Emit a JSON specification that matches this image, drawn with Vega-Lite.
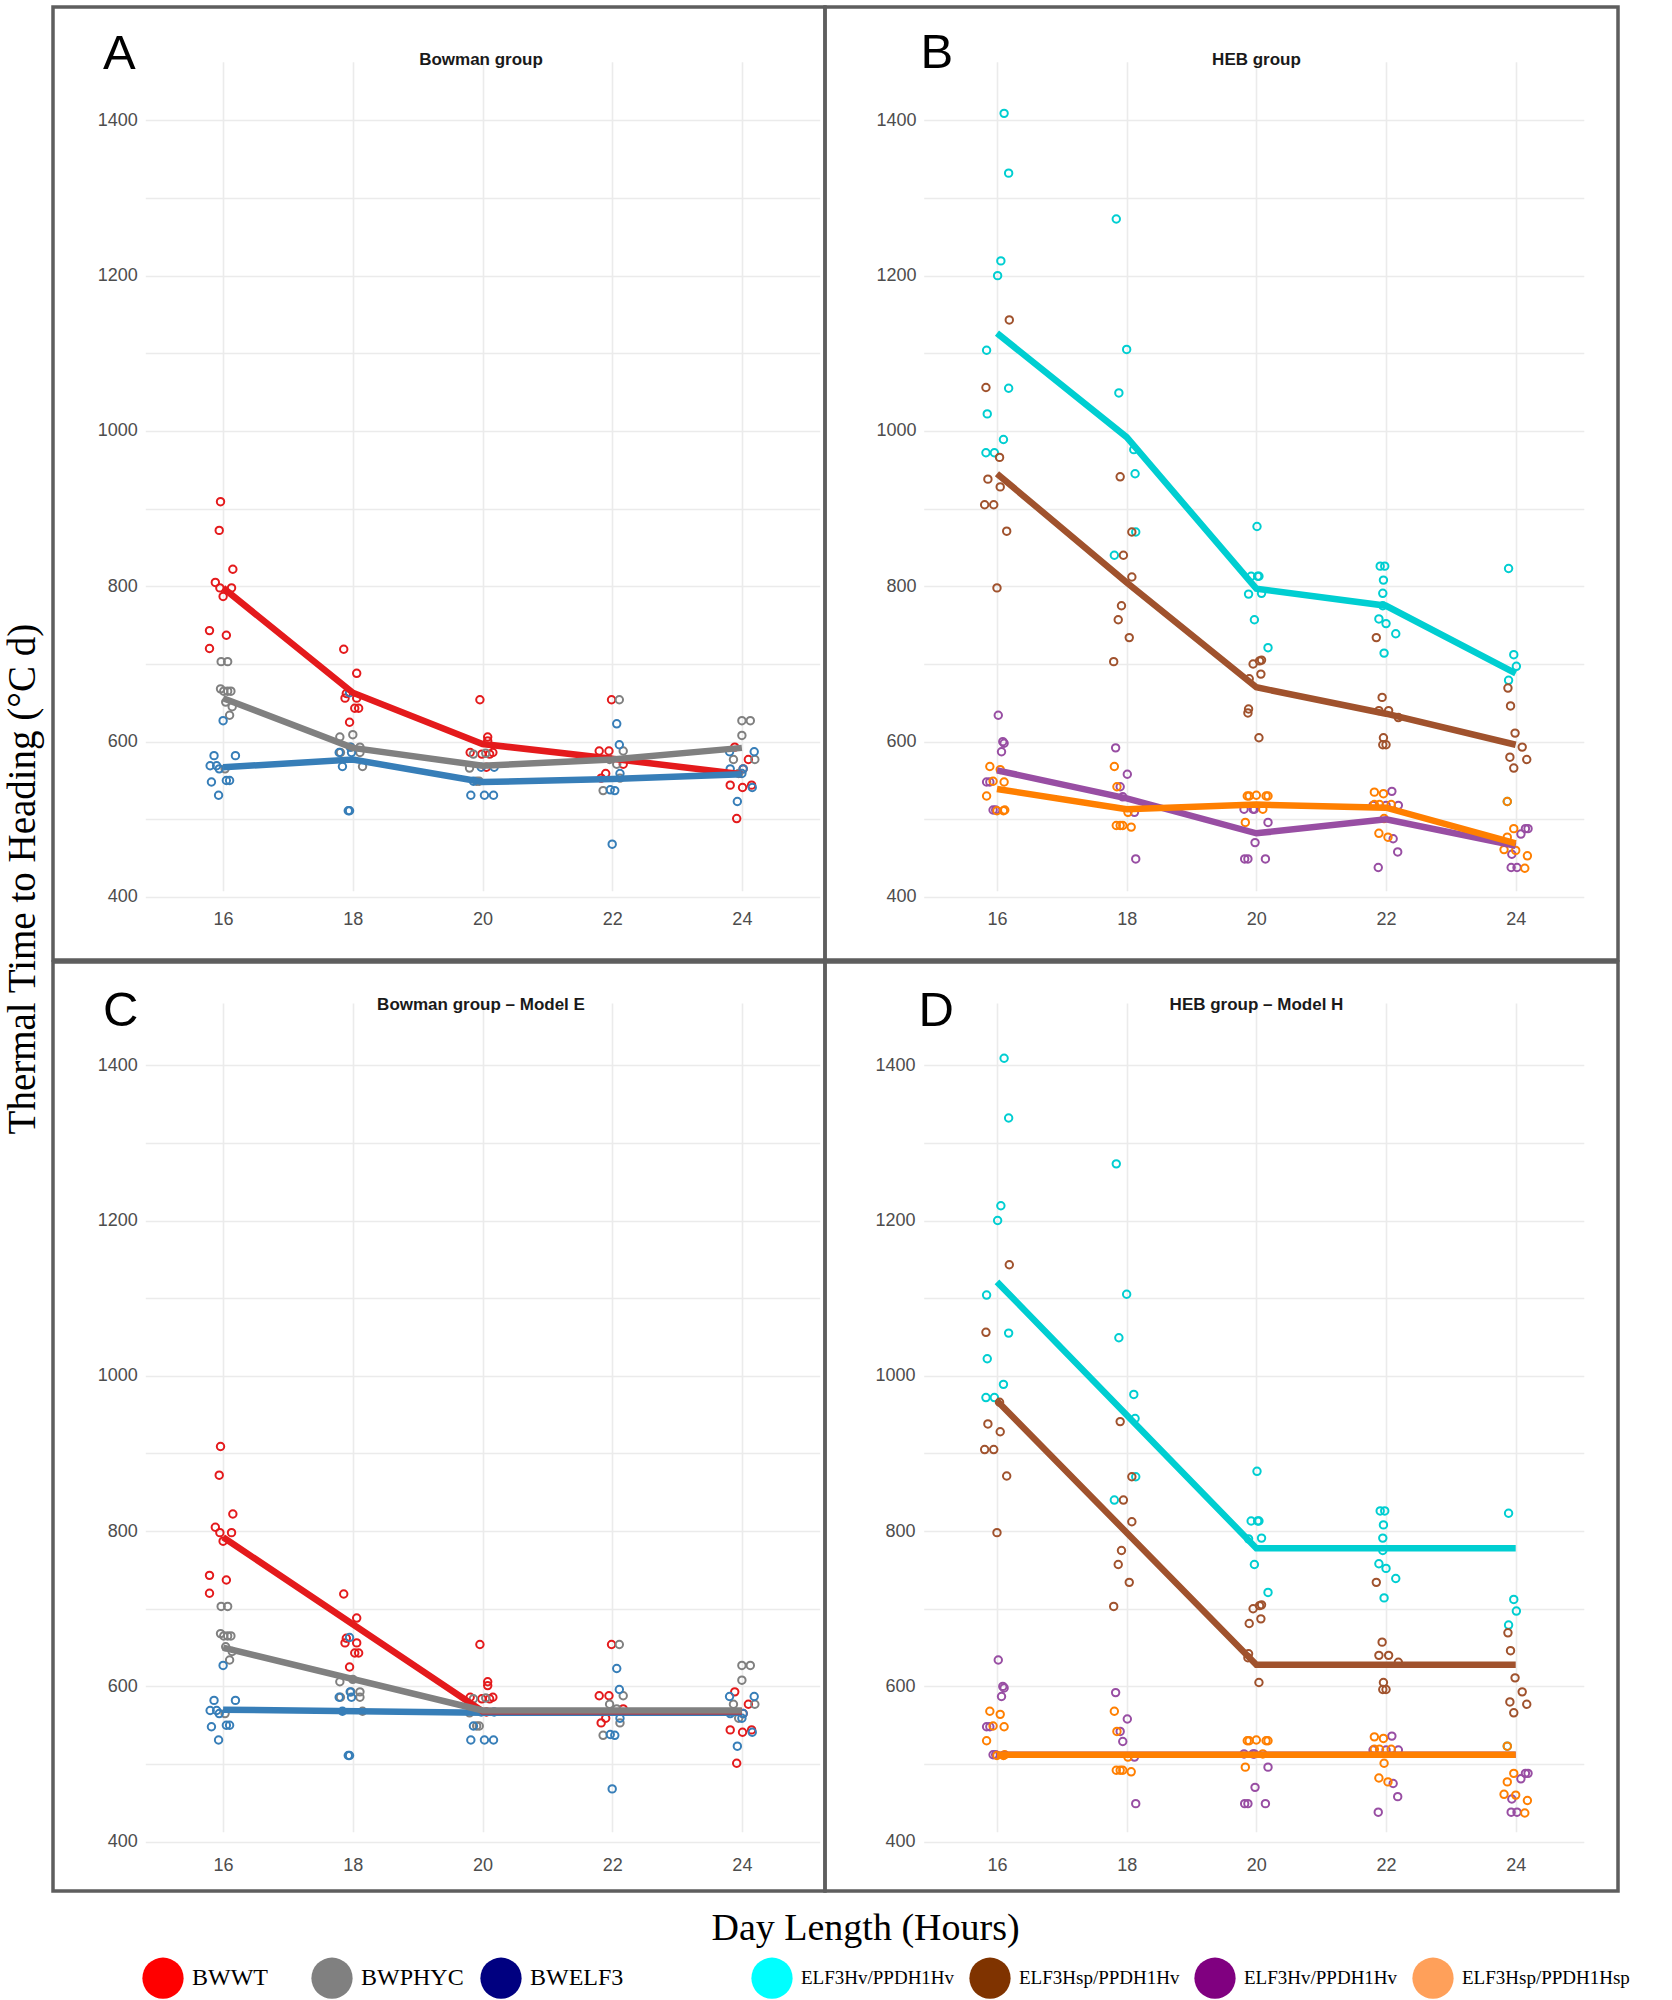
{
  "$schema": "https://vega.github.io/schema/vega-lite/v6.json",
  "background": "white",
  "padding": {"left": 4, "top": 5, "right": 5, "bottom": 0},
  "title": {"text": "Thermal Time to Heading (°C d)", "orient": "left", "anchor": "middle", "frame": "bounds", "font": "Liberation Serif", "fontSize": 39, "fontWeight": "normal", "color": "black", "offset": 8, "dx": 123},
  "config": {
    "view": {"stroke": "#5E5E5E", "strokeWidth": 3.5},
    "axis": {"gridColor": "#EBEBEB", "gridWidth": 1.6, "labelFont": "Liberation Sans", "labelFontSize": 18, "labelColor": "#4D4D4D", "domain": false, "ticks": false}
  },
  "datasets": {
    "bowman_obs": [
      {"genotype": "BW_WT", "day": 15.96, "tt": 909}, {"genotype": "BW_WT", "day": 15.94, "tt": 872}, {"genotype": "BW_WT", "day": 16.15, "tt": 822}, {"genotype": "BW_WT", "day": 15.88, "tt": 805}, {"genotype": "BW_WT", "day": 15.95, "tt": 798}, {"genotype": "BW_WT", "day": 16.13, "tt": 798}, {"genotype": "BW_WT", "day": 16.0, "tt": 787}, {"genotype": "BW_WT", "day": 15.79, "tt": 743}, {"genotype": "BW_WT", "day": 16.05, "tt": 737}, {"genotype": "BW_WT", "day": 15.79, "tt": 720},
      {"genotype": "BW_WT", "day": 17.86, "tt": 719}, {"genotype": "BW_WT", "day": 18.06, "tt": 688}, {"genotype": "BW_WT", "day": 17.90, "tt": 662}, {"genotype": "BW_WT", "day": 17.88, "tt": 656}, {"genotype": "BW_WT", "day": 18.06, "tt": 656}, {"genotype": "BW_WT", "day": 18.03, "tt": 643}, {"genotype": "BW_WT", "day": 18.09, "tt": 643}, {"genotype": "BW_WT", "day": 17.95, "tt": 625},
      {"genotype": "BW_WT", "day": 19.96, "tt": 654}, {"genotype": "BW_WT", "day": 20.08, "tt": 606}, {"genotype": "BW_WT", "day": 20.08, "tt": 601}, {"genotype": "BW_WT", "day": 19.81, "tt": 586}, {"genotype": "BW_WT", "day": 19.99, "tt": 584}, {"genotype": "BW_WT", "day": 20.11, "tt": 584}, {"genotype": "BW_WT", "day": 20.16, "tt": 586}, {"genotype": "BW_WT", "day": 20.06, "tt": 567},
      {"genotype": "BW_WT", "day": 21.99, "tt": 654}, {"genotype": "BW_WT", "day": 21.80, "tt": 588}, {"genotype": "BW_WT", "day": 21.95, "tt": 588}, {"genotype": "BW_WT", "day": 22.17, "tt": 571}, {"genotype": "BW_WT", "day": 21.90, "tt": 559}, {"genotype": "BW_WT", "day": 21.83, "tt": 553},
      {"genotype": "BW_WT", "day": 23.89, "tt": 593}, {"genotype": "BW_WT", "day": 24.10, "tt": 577}, {"genotype": "BW_WT", "day": 24.02, "tt": 565}, {"genotype": "BW_WT", "day": 23.82, "tt": 544}, {"genotype": "BW_WT", "day": 24.01, "tt": 541}, {"genotype": "BW_WT", "day": 24.15, "tt": 544}, {"genotype": "BW_WT", "day": 23.92, "tt": 501},
      {"genotype": "BW_PHYC", "day": 15.97, "tt": 703}, {"genotype": "BW_PHYC", "day": 16.07, "tt": 703}, {"genotype": "BW_PHYC", "day": 15.96, "tt": 668}, {"genotype": "BW_PHYC", "day": 16.01, "tt": 665}, {"genotype": "BW_PHYC", "day": 16.07, "tt": 665}, {"genotype": "BW_PHYC", "day": 16.12, "tt": 665}, {"genotype": "BW_PHYC", "day": 16.04, "tt": 651}, {"genotype": "BW_PHYC", "day": 16.14, "tt": 645}, {"genotype": "BW_PHYC", "day": 16.10, "tt": 634}, {"genotype": "BW_PHYC", "day": 16.03, "tt": 565},
      {"genotype": "BW_PHYC", "day": 17.80, "tt": 606}, {"genotype": "BW_PHYC", "day": 18.0, "tt": 609}, {"genotype": "BW_PHYC", "day": 17.81, "tt": 586}, {"genotype": "BW_PHYC", "day": 17.97, "tt": 593}, {"genotype": "BW_PHYC", "day": 18.11, "tt": 593}, {"genotype": "BW_PHYC", "day": 18.11, "tt": 586}, {"genotype": "BW_PHYC", "day": 18.15, "tt": 568},
      {"genotype": "BW_PHYC", "day": 19.86, "tt": 584}, {"genotype": "BW_PHYC", "day": 20.05, "tt": 585}, {"genotype": "BW_PHYC", "day": 19.80, "tt": 566}, {"genotype": "BW_PHYC", "day": 19.91, "tt": 549}, {"genotype": "BW_PHYC", "day": 19.95, "tt": 549},
      {"genotype": "BW_PHYC", "day": 22.11, "tt": 654}, {"genotype": "BW_PHYC", "day": 22.17, "tt": 588}, {"genotype": "BW_PHYC", "day": 22.07, "tt": 571}, {"genotype": "BW_PHYC", "day": 21.96, "tt": 577}, {"genotype": "BW_PHYC", "day": 22.12, "tt": 553}, {"genotype": "BW_PHYC", "day": 21.86, "tt": 537},
      {"genotype": "BW_PHYC", "day": 24.0, "tt": 627}, {"genotype": "BW_PHYC", "day": 24.13, "tt": 627}, {"genotype": "BW_PHYC", "day": 24.0, "tt": 608}, {"genotype": "BW_PHYC", "day": 23.87, "tt": 577}, {"genotype": "BW_PHYC", "day": 24.20, "tt": 577}, {"genotype": "BW_PHYC", "day": 23.95, "tt": 559},
      {"genotype": "BW_ELF3", "day": 16.0, "tt": 627}, {"genotype": "BW_ELF3", "day": 15.86, "tt": 582}, {"genotype": "BW_ELF3", "day": 16.19, "tt": 582}, {"genotype": "BW_ELF3", "day": 15.80, "tt": 569}, {"genotype": "BW_ELF3", "day": 15.90, "tt": 569}, {"genotype": "BW_ELF3", "day": 15.94, "tt": 565}, {"genotype": "BW_ELF3", "day": 15.82, "tt": 548}, {"genotype": "BW_ELF3", "day": 16.05, "tt": 550}, {"genotype": "BW_ELF3", "day": 16.10, "tt": 550}, {"genotype": "BW_ELF3", "day": 15.93, "tt": 531},
      {"genotype": "BW_ELF3", "day": 17.95, "tt": 663}, {"genotype": "BW_ELF3", "day": 17.79, "tt": 586}, {"genotype": "BW_ELF3", "day": 17.98, "tt": 586}, {"genotype": "BW_ELF3", "day": 17.96, "tt": 593}, {"genotype": "BW_ELF3", "day": 17.84, "tt": 568}, {"genotype": "BW_ELF3", "day": 17.93, "tt": 511}, {"genotype": "BW_ELF3", "day": 17.95, "tt": 511},
      {"genotype": "BW_ELF3", "day": 19.98, "tt": 567}, {"genotype": "BW_ELF3", "day": 20.18, "tt": 567}, {"genotype": "BW_ELF3", "day": 19.86, "tt": 549}, {"genotype": "BW_ELF3", "day": 19.82, "tt": 531}, {"genotype": "BW_ELF3", "day": 20.03, "tt": 531}, {"genotype": "BW_ELF3", "day": 20.17, "tt": 531},
      {"genotype": "BW_ELF3", "day": 22.07, "tt": 623}, {"genotype": "BW_ELF3", "day": 22.11, "tt": 596}, {"genotype": "BW_ELF3", "day": 22.12, "tt": 559}, {"genotype": "BW_ELF3", "day": 21.97, "tt": 538}, {"genotype": "BW_ELF3", "day": 22.04, "tt": 537}, {"genotype": "BW_ELF3", "day": 22.0, "tt": 468},
      {"genotype": "BW_ELF3", "day": 23.81, "tt": 587}, {"genotype": "BW_ELF3", "day": 24.19, "tt": 587}, {"genotype": "BW_ELF3", "day": 23.82, "tt": 565}, {"genotype": "BW_ELF3", "day": 24.02, "tt": 565}, {"genotype": "BW_ELF3", "day": 24.0, "tt": 559}, {"genotype": "BW_ELF3", "day": 24.16, "tt": 541}, {"genotype": "BW_ELF3", "day": 23.93, "tt": 523}
    ],
    "heb_obs": [
      {"genotype": "Hv_Hv", "day": 16.11, "tt": 1409}, {"genotype": "Hv_Hv", "day": 16.18, "tt": 1332}, {"genotype": "Hv_Hv", "day": 16.06, "tt": 1219}, {"genotype": "Hv_Hv", "day": 16.01, "tt": 1200}, {"genotype": "Hv_Hv", "day": 15.84, "tt": 1104}, {"genotype": "Hv_Hv", "day": 16.18, "tt": 1055}, {"genotype": "Hv_Hv", "day": 15.85, "tt": 1022}, {"genotype": "Hv_Hv", "day": 16.10, "tt": 989}, {"genotype": "Hv_Hv", "day": 15.83, "tt": 972}, {"genotype": "Hv_Hv", "day": 15.96, "tt": 972},
      {"genotype": "Hv_Hv", "day": 17.84, "tt": 1273}, {"genotype": "Hv_Hv", "day": 18.0, "tt": 1105}, {"genotype": "Hv_Hv", "day": 17.88, "tt": 1049}, {"genotype": "Hv_Hv", "day": 18.11, "tt": 976}, {"genotype": "Hv_Hv", "day": 18.13, "tt": 945}, {"genotype": "Hv_Hv", "day": 18.14, "tt": 870}, {"genotype": "Hv_Hv", "day": 17.81, "tt": 840},
      {"genotype": "Hv_Hv", "day": 20.01, "tt": 877}, {"genotype": "Hv_Hv", "day": 19.92, "tt": 813}, {"genotype": "Hv_Hv", "day": 20.02, "tt": 813}, {"genotype": "Hv_Hv", "day": 20.04, "tt": 813}, {"genotype": "Hv_Hv", "day": 19.88, "tt": 790}, {"genotype": "Hv_Hv", "day": 20.08, "tt": 791}, {"genotype": "Hv_Hv", "day": 19.97, "tt": 757}, {"genotype": "Hv_Hv", "day": 20.18, "tt": 721},
      {"genotype": "Hv_Hv", "day": 21.91, "tt": 826}, {"genotype": "Hv_Hv", "day": 21.98, "tt": 826}, {"genotype": "Hv_Hv", "day": 21.96, "tt": 808}, {"genotype": "Hv_Hv", "day": 21.95, "tt": 791}, {"genotype": "Hv_Hv", "day": 21.95, "tt": 775}, {"genotype": "Hv_Hv", "day": 21.89, "tt": 758}, {"genotype": "Hv_Hv", "day": 22.0, "tt": 752}, {"genotype": "Hv_Hv", "day": 22.15, "tt": 739}, {"genotype": "Hv_Hv", "day": 21.97, "tt": 714},
      {"genotype": "Hv_Hv", "day": 23.89, "tt": 823}, {"genotype": "Hv_Hv", "day": 23.97, "tt": 712}, {"genotype": "Hv_Hv", "day": 24.01, "tt": 697}, {"genotype": "Hv_Hv", "day": 23.89, "tt": 679}, {"genotype": "Hv_Hv", "day": 23.87, "tt": 523},
      {"genotype": "Hsp_Hv", "day": 16.19, "tt": 1143}, {"genotype": "Hsp_Hv", "day": 15.83, "tt": 1056}, {"genotype": "Hsp_Hv", "day": 16.04, "tt": 966}, {"genotype": "Hsp_Hv", "day": 15.86, "tt": 938}, {"genotype": "Hsp_Hv", "day": 16.05, "tt": 928}, {"genotype": "Hsp_Hv", "day": 15.81, "tt": 905}, {"genotype": "Hsp_Hv", "day": 15.95, "tt": 905}, {"genotype": "Hsp_Hv", "day": 16.15, "tt": 871}, {"genotype": "Hsp_Hv", "day": 16.0, "tt": 798},
      {"genotype": "Hsp_Hv", "day": 17.90, "tt": 941}, {"genotype": "Hsp_Hv", "day": 18.08, "tt": 870}, {"genotype": "Hsp_Hv", "day": 17.95, "tt": 840}, {"genotype": "Hsp_Hv", "day": 18.08, "tt": 812}, {"genotype": "Hsp_Hv", "day": 17.92, "tt": 775}, {"genotype": "Hsp_Hv", "day": 17.87, "tt": 757}, {"genotype": "Hsp_Hv", "day": 18.04, "tt": 734}, {"genotype": "Hsp_Hv", "day": 17.80, "tt": 703},
      {"genotype": "Hsp_Hv", "day": 19.95, "tt": 700}, {"genotype": "Hsp_Hv", "day": 20.05, "tt": 704}, {"genotype": "Hsp_Hv", "day": 20.08, "tt": 705}, {"genotype": "Hsp_Hv", "day": 20.07, "tt": 687}, {"genotype": "Hsp_Hv", "day": 19.89, "tt": 681}, {"genotype": "Hsp_Hv", "day": 19.88, "tt": 642}, {"genotype": "Hsp_Hv", "day": 19.87, "tt": 637}, {"genotype": "Hsp_Hv", "day": 20.04, "tt": 605},
      {"genotype": "Hsp_Hv", "day": 21.85, "tt": 734}, {"genotype": "Hsp_Hv", "day": 21.94, "tt": 657}, {"genotype": "Hsp_Hv", "day": 21.89, "tt": 640}, {"genotype": "Hsp_Hv", "day": 22.04, "tt": 640}, {"genotype": "Hsp_Hv", "day": 22.19, "tt": 631}, {"genotype": "Hsp_Hv", "day": 21.96, "tt": 605}, {"genotype": "Hsp_Hv", "day": 21.95, "tt": 596}, {"genotype": "Hsp_Hv", "day": 22.0, "tt": 596},
      {"genotype": "Hsp_Hv", "day": 23.88, "tt": 669}, {"genotype": "Hsp_Hv", "day": 23.92, "tt": 646}, {"genotype": "Hsp_Hv", "day": 23.99, "tt": 611}, {"genotype": "Hsp_Hv", "day": 24.10, "tt": 593}, {"genotype": "Hsp_Hv", "day": 23.91, "tt": 580}, {"genotype": "Hsp_Hv", "day": 24.17, "tt": 577}, {"genotype": "Hsp_Hv", "day": 23.97, "tt": 566},
      {"genotype": "Hv_Hsp", "day": 16.02, "tt": 634}, {"genotype": "Hv_Hsp", "day": 16.09, "tt": 600}, {"genotype": "Hv_Hsp", "day": 16.11, "tt": 598}, {"genotype": "Hv_Hsp", "day": 16.07, "tt": 587}, {"genotype": "Hv_Hsp", "day": 15.84, "tt": 548}, {"genotype": "Hv_Hsp", "day": 15.89, "tt": 548}, {"genotype": "Hv_Hsp", "day": 15.94, "tt": 512}, {"genotype": "Hv_Hsp", "day": 15.98, "tt": 512},
      {"genotype": "Hv_Hsp", "day": 17.83, "tt": 592}, {"genotype": "Hv_Hsp", "day": 18.01, "tt": 558}, {"genotype": "Hv_Hsp", "day": 17.90, "tt": 542}, {"genotype": "Hv_Hsp", "day": 17.94, "tt": 529}, {"genotype": "Hv_Hsp", "day": 18.12, "tt": 509}, {"genotype": "Hv_Hsp", "day": 18.14, "tt": 449},
      {"genotype": "Hv_Hsp", "day": 19.81, "tt": 513}, {"genotype": "Hv_Hsp", "day": 19.95, "tt": 513}, {"genotype": "Hv_Hsp", "day": 19.97, "tt": 513}, {"genotype": "Hv_Hsp", "day": 20.18, "tt": 496}, {"genotype": "Hv_Hsp", "day": 19.98, "tt": 470}, {"genotype": "Hv_Hsp", "day": 19.82, "tt": 449}, {"genotype": "Hv_Hsp", "day": 19.87, "tt": 449}, {"genotype": "Hv_Hsp", "day": 20.14, "tt": 449},
      {"genotype": "Hv_Hsp", "day": 22.09, "tt": 536}, {"genotype": "Hv_Hsp", "day": 21.80, "tt": 518}, {"genotype": "Hv_Hsp", "day": 22.0, "tt": 518}, {"genotype": "Hv_Hsp", "day": 22.19, "tt": 518}, {"genotype": "Hv_Hsp", "day": 22.11, "tt": 475}, {"genotype": "Hv_Hsp", "day": 22.18, "tt": 458}, {"genotype": "Hv_Hsp", "day": 21.88, "tt": 438},
      {"genotype": "Hv_Hsp", "day": 24.08, "tt": 481}, {"genotype": "Hv_Hsp", "day": 24.15, "tt": 488}, {"genotype": "Hv_Hsp", "day": 24.19, "tt": 488}, {"genotype": "Hv_Hsp", "day": 23.94, "tt": 455}, {"genotype": "Hv_Hsp", "day": 23.93, "tt": 438}, {"genotype": "Hv_Hsp", "day": 24.02, "tt": 438},
      {"genotype": "Hsp_Hsp", "day": 15.89, "tt": 568}, {"genotype": "Hsp_Hsp", "day": 16.05, "tt": 564}, {"genotype": "Hsp_Hsp", "day": 15.94, "tt": 549}, {"genotype": "Hsp_Hsp", "day": 16.11, "tt": 548}, {"genotype": "Hsp_Hsp", "day": 15.84, "tt": 530}, {"genotype": "Hsp_Hsp", "day": 16.0, "tt": 511}, {"genotype": "Hsp_Hsp", "day": 16.12, "tt": 512}, {"genotype": "Hsp_Hsp", "day": 16.10, "tt": 511},
      {"genotype": "Hsp_Hsp", "day": 17.81, "tt": 568}, {"genotype": "Hsp_Hsp", "day": 17.85, "tt": 542}, {"genotype": "Hsp_Hsp", "day": 18.02, "tt": 509}, {"genotype": "Hsp_Hsp", "day": 17.84, "tt": 492}, {"genotype": "Hsp_Hsp", "day": 17.90, "tt": 492}, {"genotype": "Hsp_Hsp", "day": 17.94, "tt": 492}, {"genotype": "Hsp_Hsp", "day": 18.07, "tt": 490},
      {"genotype": "Hsp_Hsp", "day": 19.86, "tt": 530}, {"genotype": "Hsp_Hsp", "day": 19.89, "tt": 530}, {"genotype": "Hsp_Hsp", "day": 20.0, "tt": 531}, {"genotype": "Hsp_Hsp", "day": 20.15, "tt": 530}, {"genotype": "Hsp_Hsp", "day": 20.18, "tt": 530}, {"genotype": "Hsp_Hsp", "day": 20.10, "tt": 513}, {"genotype": "Hsp_Hsp", "day": 19.83, "tt": 496},
      {"genotype": "Hsp_Hsp", "day": 21.82, "tt": 535}, {"genotype": "Hsp_Hsp", "day": 21.96, "tt": 533}, {"genotype": "Hsp_Hsp", "day": 21.82, "tt": 519}, {"genotype": "Hsp_Hsp", "day": 21.90, "tt": 519}, {"genotype": "Hsp_Hsp", "day": 22.08, "tt": 519}, {"genotype": "Hsp_Hsp", "day": 21.97, "tt": 501}, {"genotype": "Hsp_Hsp", "day": 21.89, "tt": 482}, {"genotype": "Hsp_Hsp", "day": 22.03, "tt": 477},
      {"genotype": "Hsp_Hsp", "day": 23.87, "tt": 523}, {"genotype": "Hsp_Hsp", "day": 23.97, "tt": 488}, {"genotype": "Hsp_Hsp", "day": 23.87, "tt": 477}, {"genotype": "Hsp_Hsp", "day": 23.82, "tt": 461}, {"genotype": "Hsp_Hsp", "day": 24.0, "tt": 460}, {"genotype": "Hsp_Hsp", "day": 24.18, "tt": 453}, {"genotype": "Hsp_Hsp", "day": 24.14, "tt": 437}
    ],
    "bowman_mean": [
      {"genotype": "BW_WT", "day": 16, "tt": 798}, {"genotype": "BW_WT", "day": 18, "tt": 663}, {"genotype": "BW_WT", "day": 20, "tt": 597}, {"genotype": "BW_WT", "day": 22, "tt": 578}, {"genotype": "BW_WT", "day": 24, "tt": 558},
      {"genotype": "BW_PHYC", "day": 16, "tt": 656}, {"genotype": "BW_PHYC", "day": 18, "tt": 592}, {"genotype": "BW_PHYC", "day": 20, "tt": 569}, {"genotype": "BW_PHYC", "day": 22, "tt": 577}, {"genotype": "BW_PHYC", "day": 24, "tt": 592},
      {"genotype": "BW_ELF3", "day": 16, "tt": 567}, {"genotype": "BW_ELF3", "day": 18, "tt": 577}, {"genotype": "BW_ELF3", "day": 20, "tt": 548}, {"genotype": "BW_ELF3", "day": 22, "tt": 552}, {"genotype": "BW_ELF3", "day": 24, "tt": 558}
    ],
    "heb_mean": [
      {"genotype": "Hv_Hv", "day": 16, "tt": 1126}, {"genotype": "Hv_Hv", "day": 18, "tt": 992}, {"genotype": "Hv_Hv", "day": 20, "tt": 797}, {"genotype": "Hv_Hv", "day": 22, "tt": 775}, {"genotype": "Hv_Hv", "day": 24, "tt": 688},
      {"genotype": "Hsp_Hv", "day": 16, "tt": 945}, {"genotype": "Hsp_Hv", "day": 18, "tt": 805}, {"genotype": "Hsp_Hv", "day": 20, "tt": 670}, {"genotype": "Hsp_Hv", "day": 22, "tt": 636}, {"genotype": "Hsp_Hv", "day": 24, "tt": 596},
      {"genotype": "Hv_Hsp", "day": 16, "tt": 563}, {"genotype": "Hv_Hsp", "day": 18, "tt": 527}, {"genotype": "Hv_Hsp", "day": 20, "tt": 482}, {"genotype": "Hv_Hsp", "day": 22, "tt": 500}, {"genotype": "Hv_Hsp", "day": 24, "tt": 466},
      {"genotype": "Hsp_Hsp", "day": 16, "tt": 539}, {"genotype": "Hsp_Hsp", "day": 18, "tt": 513}, {"genotype": "Hsp_Hsp", "day": 20, "tt": 519}, {"genotype": "Hsp_Hsp", "day": 22, "tt": 515}, {"genotype": "Hsp_Hsp", "day": 24, "tt": 469}
    ],
    "bowman_modelE": [
      {"genotype": "BW_ELF3", "day": 16, "tt": 570}, {"genotype": "BW_ELF3", "day": 20, "tt": 566}, {"genotype": "BW_ELF3", "day": 24, "tt": 566},
      {"genotype": "BW_WT", "day": 16, "tt": 792}, {"genotype": "BW_WT", "day": 20, "tt": 568}, {"genotype": "BW_WT", "day": 24, "tt": 568},
      {"genotype": "BW_PHYC", "day": 16, "tt": 650}, {"genotype": "BW_PHYC", "day": 20, "tt": 569}, {"genotype": "BW_PHYC", "day": 24, "tt": 569}
    ],
    "heb_modelH": [
      {"genotype": "Hv_Hv", "day": 16, "tt": 1121}, {"genotype": "Hv_Hv", "day": 20, "tt": 778}, {"genotype": "Hv_Hv", "day": 24, "tt": 778},
      {"genotype": "Hsp_Hv", "day": 16, "tt": 968}, {"genotype": "Hsp_Hv", "day": 20, "tt": 628}, {"genotype": "Hsp_Hv", "day": 24, "tt": 628},
      {"genotype": "Hv_Hsp", "day": 16, "tt": 512}, {"genotype": "Hv_Hsp", "day": 20, "tt": 512}, {"genotype": "Hv_Hsp", "day": 24, "tt": 512},
      {"genotype": "Hsp_Hsp", "day": 16, "tt": 512}, {"genotype": "Hsp_Hsp", "day": 20, "tt": 512}, {"genotype": "Hsp_Hsp", "day": 24, "tt": 512}
    ],
    "bw_legend": [{"genotype": "BW_WT"}, {"genotype": "BW_PHYC"}, {"genotype": "BW_ELF3"}],
    "heb_legend": [{"genotype": "Hv_Hv"}, {"genotype": "Hsp_Hv"}, {"genotype": "Hv_Hsp"}, {"genotype": "Hsp_Hsp"}]
  },
  "spacing": -3.5,
  "resolve": {"scale": {"x": "independent", "y": "independent"}},
  "vconcat": [
    {
      "hconcat": [
        {
          "width": 772, "height": 953,
          "title": {"text": "Bowman group", "anchor": "middle", "frame": "group", "offset": -75, "baseline": "alphabetic", "dx": 42, "font": "Liberation Sans", "fontSize": 17, "fontWeight": "bold", "color": "#1A1A1A"},
          "layer": [
            {
              "data": {"name": "bowman_obs"},
              "mark": {"type": "point", "filled": false, "size": 55, "strokeWidth": 2, "opacity": 1},
              "encoding": {
                "x": {"field": "day", "type": "quantitative", "scale": {"domain": [14.8, 25.2], "range": [92.3, 766.7], "nice": false, "zero": false}, "axis": {"values": [16, 18, 20, 22, 24], "offset": -54.7, "labelPadding": 5, "title": null}},
                "y": {"field": "tt", "type": "quantitative", "scale": {"domain": [389.3, 1456.7], "range": [898.3, 69.3], "nice": false, "zero": false}, "axis": {"values": [400, 500, 600, 700, 800, 900, 1000, 1100, 1200, 1300, 1400], "format": "d", "labelExpr": "datum.value % 200 === 0 ? datum.label : ''", "offset": -84.3, "labelPadding": 0, "title": "A", "titleAngle": 0, "titleX": -34.7, "titleY": 61.3, "titleAlign": "left", "titleBaseline": "alphabetic", "titleFont": "Liberation Sans", "titleFontSize": 49, "titleFontWeight": "normal", "titleColor": "black"}},
                "stroke": {"field": "genotype", "type": "nominal", "scale": {"domain": ["BW_WT", "BW_PHYC", "BW_ELF3", "Hv_Hv", "Hsp_Hv", "Hv_Hsp", "Hsp_Hsp"], "range": ["#E41A1C", "#808080", "#377EB8", "#00CED1", "#A0522D", "#984EA3", "#FF7F00"]}, "legend": null}
              }
            },
            {
              "data": {"name": "bowman_mean"},
              "mark": {"type": "line", "strokeWidth": 6.5},
              "encoding": {
                "x": {"field": "day", "type": "quantitative", "scale": {"domain": [14.8, 25.2], "range": [92.3, 766.7], "nice": false, "zero": false}, "axis": {"values": [16, 18, 20, 22, 24], "offset": -54.7, "labelPadding": 5, "title": null}},
                "y": {"field": "tt", "type": "quantitative", "scale": {"domain": [389.3, 1456.7], "range": [898.3, 69.3], "nice": false, "zero": false}, "axis": {"values": [400, 500, 600, 700, 800, 900, 1000, 1100, 1200, 1300, 1400], "format": "d", "labelExpr": "datum.value % 200 === 0 ? datum.label : ''", "offset": -84.3, "labelPadding": 0, "title": "A", "titleAngle": 0, "titleX": -34.7, "titleY": 61.3, "titleAlign": "left", "titleBaseline": "alphabetic", "titleFont": "Liberation Sans", "titleFontSize": 49, "titleFontWeight": "normal", "titleColor": "black"}},
                "stroke": {"field": "genotype", "type": "nominal", "scale": {"domain": ["BW_WT", "BW_PHYC", "BW_ELF3", "Hv_Hv", "Hsp_Hv", "Hv_Hsp", "Hsp_Hsp"], "range": ["#E41A1C", "#808080", "#377EB8", "#00CED1", "#A0522D", "#984EA3", "#FF7F00"]}, "legend": null}
              }
            }
          ]
        },
        {
          "width": 793, "height": 953,
          "title": {"text": "HEB group", "anchor": "middle", "frame": "group", "offset": -75, "baseline": "alphabetic", "dx": 35, "font": "Liberation Sans", "fontSize": 17, "fontWeight": "bold", "color": "#1A1A1A"},
          "layer": [
            {
              "data": {"name": "heb_obs"},
              "mark": {"type": "point", "filled": false, "size": 55, "strokeWidth": 2, "opacity": 1},
              "encoding": {
                "x": {"field": "day", "type": "quantitative", "scale": {"domain": [14.87, 25.05], "range": [98.7, 758.8], "nice": false, "zero": false}, "axis": {"values": [16, 18, 20, 22, 24], "offset": -54.7, "labelPadding": 5, "title": null}},
                "y": {"field": "tt", "type": "quantitative", "scale": {"domain": [389.3, 1456.7], "range": [898.3, 69.3], "nice": false, "zero": false}, "axis": {"values": [400, 500, 600, 700, 800, 900, 1000, 1100, 1200, 1300, 1400], "format": "d", "labelExpr": "datum.value % 200 === 0 ? datum.label : ''", "offset": -91, "labelPadding": 0, "title": "B", "titleAngle": 0, "titleX": 4, "titleY": 60.3, "titleAlign": "left", "titleBaseline": "alphabetic", "titleFont": "Liberation Sans", "titleFontSize": 49, "titleFontWeight": "normal", "titleColor": "black"}},
                "stroke": {"field": "genotype", "type": "nominal", "scale": {"domain": ["BW_WT", "BW_PHYC", "BW_ELF3", "Hv_Hv", "Hsp_Hv", "Hv_Hsp", "Hsp_Hsp"], "range": ["#E41A1C", "#808080", "#377EB8", "#00CED1", "#A0522D", "#984EA3", "#FF7F00"]}, "legend": null}
              }
            },
            {
              "data": {"name": "heb_mean"},
              "mark": {"type": "line", "strokeWidth": 6.5},
              "encoding": {
                "x": {"field": "day", "type": "quantitative", "scale": {"domain": [14.87, 25.05], "range": [98.7, 758.8], "nice": false, "zero": false}, "axis": {"values": [16, 18, 20, 22, 24], "offset": -54.7, "labelPadding": 5, "title": null}},
                "y": {"field": "tt", "type": "quantitative", "scale": {"domain": [389.3, 1456.7], "range": [898.3, 69.3], "nice": false, "zero": false}, "axis": {"values": [400, 500, 600, 700, 800, 900, 1000, 1100, 1200, 1300, 1400], "format": "d", "labelExpr": "datum.value % 200 === 0 ? datum.label : ''", "offset": -91, "labelPadding": 0, "title": "B", "titleAngle": 0, "titleX": 4, "titleY": 60.3, "titleAlign": "left", "titleBaseline": "alphabetic", "titleFont": "Liberation Sans", "titleFontSize": 49, "titleFontWeight": "normal", "titleColor": "black"}},
                "stroke": {"field": "genotype", "type": "nominal", "scale": {"domain": ["BW_WT", "BW_PHYC", "BW_ELF3", "Hv_Hv", "Hsp_Hv", "Hv_Hsp", "Hsp_Hsp"], "range": ["#E41A1C", "#808080", "#377EB8", "#00CED1", "#A0522D", "#984EA3", "#FF7F00"]}, "legend": null}
              }
            }
          ]
        }
      ],
      "spacing": 0,
      "bounds": "flush",
      "resolve": {"scale": {"x": "independent", "y": "independent"}}
    },
    {
      "hconcat": [
        {
          "width": 772, "height": 929,
          "title": {"text": "Bowman group – Model E", "anchor": "middle", "frame": "group", "offset": -65, "baseline": "alphabetic", "dx": 42, "font": "Liberation Sans", "fontSize": 17, "fontWeight": "bold", "color": "#1A1A1A"},
          "layer": [
            {
              "data": {"name": "bowman_obs"},
              "mark": {"type": "point", "filled": false, "size": 55, "strokeWidth": 2, "opacity": 1},
              "encoding": {
                "x": {"field": "day", "type": "quantitative", "scale": {"domain": [14.8, 25.2], "range": [92.3, 766.7], "nice": false, "zero": false}, "axis": {"values": [16, 18, 20, 22, 24], "offset": -41, "labelPadding": 6, "title": "Day Length (Hours)", "titleX": 812, "titleY": 89, "titleAlign": "center", "titleBaseline": "alphabetic", "titleFont": "Liberation Serif", "titleFontSize": 38, "titleFontWeight": "normal", "titleColor": "black"}},
                "y": {"field": "tt", "type": "quantitative", "scale": {"domain": [389.3, 1456.7], "range": [888, 59.2], "nice": false, "zero": false}, "axis": {"values": [400, 500, 600, 700, 800, 900, 1000, 1100, 1200, 1300, 1400], "format": "d", "labelExpr": "datum.value % 200 === 0 ? datum.label : ''", "offset": -84.3, "labelPadding": 0, "title": "C", "titleAngle": 0, "titleX": -34.7, "titleY": 63.7, "titleAlign": "left", "titleBaseline": "alphabetic", "titleFont": "Liberation Sans", "titleFontSize": 49, "titleFontWeight": "normal", "titleColor": "black"}},
                "stroke": {"field": "genotype", "type": "nominal", "scale": {"domain": ["BW_WT", "BW_PHYC", "BW_ELF3", "Hv_Hv", "Hsp_Hv", "Hv_Hsp", "Hsp_Hsp"], "range": ["#E41A1C", "#808080", "#377EB8", "#00CED1", "#A0522D", "#984EA3", "#FF7F00"]}, "legend": null}
              }
            },
            {
              "data": {"name": "bowman_modelE"},
              "mark": {"type": "line", "strokeWidth": 6.5},
              "encoding": {
                "x": {"field": "day", "type": "quantitative", "scale": {"domain": [14.8, 25.2], "range": [92.3, 766.7], "nice": false, "zero": false}, "axis": {"values": [16, 18, 20, 22, 24], "offset": -41, "labelPadding": 6, "title": "Day Length (Hours)", "titleX": 812, "titleY": 89, "titleAlign": "center", "titleBaseline": "alphabetic", "titleFont": "Liberation Serif", "titleFontSize": 38, "titleFontWeight": "normal", "titleColor": "black"}},
                "y": {"field": "tt", "type": "quantitative", "scale": {"domain": [389.3, 1456.7], "range": [888, 59.2], "nice": false, "zero": false}, "axis": {"values": [400, 500, 600, 700, 800, 900, 1000, 1100, 1200, 1300, 1400], "format": "d", "labelExpr": "datum.value % 200 === 0 ? datum.label : ''", "offset": -84.3, "labelPadding": 0, "title": "C", "titleAngle": 0, "titleX": -34.7, "titleY": 63.7, "titleAlign": "left", "titleBaseline": "alphabetic", "titleFont": "Liberation Sans", "titleFontSize": 49, "titleFontWeight": "normal", "titleColor": "black"}},
                "stroke": {"field": "genotype", "type": "nominal", "scale": {"domain": ["BW_WT", "BW_PHYC", "BW_ELF3", "Hv_Hv", "Hsp_Hv", "Hv_Hsp", "Hsp_Hsp"], "range": ["#E41A1C", "#808080", "#377EB8", "#00CED1", "#A0522D", "#984EA3", "#FF7F00"]}, "legend": null}
              }
            },
            {
              "data": {"name": "bw_legend"},
              "mark": {"type": "point", "filled": true, "opacity": 0},
              "encoding": {
                "fill": {"field": "genotype", "type": "nominal", "scale": {"domain": ["BW_WT", "BW_PHYC", "BW_ELF3"], "range": ["#FF0000", "#808080", "#000080"]},
                  "legend": {"title": null, "orient": "none", "legendX": 89, "legendY": 1950, "direction": "horizontal", "symbolType": "circle", "symbolSize": 1700, "symbolStrokeWidth": 0, "symbolOpacity": 1, "labelFont": "Liberation Serif", "labelFontSize": 24, "labelColor": "black", "labelLimit": 400, "labelOffset": 8, "columnPadding": 16, "gridAlign": "all",
                    "labelExpr": "datum.value == 'BW_WT' ? 'BWWT' : datum.value == 'BW_PHYC' ? 'BWPHYC' : 'BWELF3'"}}
              }
            },
            {
              "data": {"name": "heb_legend"},
              "mark": {"type": "point", "filled": true, "opacity": 0},
              "encoding": {
                "color": {"field": "genotype", "type": "nominal", "scale": {"domain": ["Hv_Hv", "Hsp_Hv", "Hv_Hsp", "Hsp_Hsp"], "range": ["#00FFFF", "#7F3300", "#800080", "#FFA05A"]},
                  "legend": {"title": null, "orient": "none", "legendX": 698, "legendY": 1950, "direction": "horizontal", "symbolType": "circle", "symbolSize": 1700, "symbolStrokeWidth": 0, "symbolOpacity": 1, "labelFont": "Liberation Serif", "labelFontSize": 19, "labelColor": "black", "labelLimit": 400, "labelOffset": 8, "columnPadding": 14,
                    "labelExpr": "datum.value == 'Hv_Hv' ? 'ELF3Hv/PPDH1Hv' : datum.value == 'Hsp_Hv' ? 'ELF3Hsp/PPDH1Hv' : datum.value == 'Hv_Hsp' ? 'ELF3Hv/PPDH1Hv' : 'ELF3Hsp/PPDH1Hsp'"}}
              }
            }
          ]
        },
        {
          "width": 793, "height": 929,
          "title": {"text": "HEB group – Model H", "anchor": "middle", "frame": "group", "offset": -65, "baseline": "alphabetic", "dx": 35, "font": "Liberation Sans", "fontSize": 17, "fontWeight": "bold", "color": "#1A1A1A"},
          "layer": [
            {
              "data": {"name": "heb_obs"},
              "mark": {"type": "point", "filled": false, "size": 55, "strokeWidth": 2, "opacity": 1},
              "encoding": {
                "x": {"field": "day", "type": "quantitative", "scale": {"domain": [14.87, 25.05], "range": [98.7, 758.8], "nice": false, "zero": false}, "axis": {"values": [16, 18, 20, 22, 24], "offset": -41, "labelPadding": 6, "title": null}},
                "y": {"field": "tt", "type": "quantitative", "scale": {"domain": [389.3, 1456.7], "range": [888, 59.2], "nice": false, "zero": false}, "axis": {"values": [400, 500, 600, 700, 800, 900, 1000, 1100, 1200, 1300, 1400], "format": "d", "labelExpr": "datum.value % 200 === 0 ? datum.label : ''", "offset": -90, "labelPadding": 0, "title": "D", "titleAngle": 0, "titleX": 3, "titleY": 63.7, "titleAlign": "left", "titleBaseline": "alphabetic", "titleFont": "Liberation Sans", "titleFontSize": 49, "titleFontWeight": "normal", "titleColor": "black"}},
                "stroke": {"field": "genotype", "type": "nominal", "scale": {"domain": ["BW_WT", "BW_PHYC", "BW_ELF3", "Hv_Hv", "Hsp_Hv", "Hv_Hsp", "Hsp_Hsp"], "range": ["#E41A1C", "#808080", "#377EB8", "#00CED1", "#A0522D", "#984EA3", "#FF7F00"]}, "legend": null}
              }
            },
            {
              "data": {"name": "heb_modelH"},
              "mark": {"type": "line", "strokeWidth": 6.5},
              "encoding": {
                "x": {"field": "day", "type": "quantitative", "scale": {"domain": [14.87, 25.05], "range": [98.7, 758.8], "nice": false, "zero": false}, "axis": {"values": [16, 18, 20, 22, 24], "offset": -41, "labelPadding": 6, "title": null}},
                "y": {"field": "tt", "type": "quantitative", "scale": {"domain": [389.3, 1456.7], "range": [888, 59.2], "nice": false, "zero": false}, "axis": {"values": [400, 500, 600, 700, 800, 900, 1000, 1100, 1200, 1300, 1400], "format": "d", "labelExpr": "datum.value % 200 === 0 ? datum.label : ''", "offset": -90, "labelPadding": 0, "title": "D", "titleAngle": 0, "titleX": 3, "titleY": 63.7, "titleAlign": "left", "titleBaseline": "alphabetic", "titleFont": "Liberation Sans", "titleFontSize": 49, "titleFontWeight": "normal", "titleColor": "black"}},
                "stroke": {"field": "genotype", "type": "nominal", "scale": {"domain": ["BW_WT", "BW_PHYC", "BW_ELF3", "Hv_Hv", "Hsp_Hv", "Hv_Hsp", "Hsp_Hsp"], "range": ["#E41A1C", "#808080", "#377EB8", "#00CED1", "#A0522D", "#984EA3", "#FF7F00"]}, "legend": null}
              }
            }
          ]
        }
      ],
      "spacing": 0,
      "bounds": "flush",
      "resolve": {"scale": {"x": "independent", "y": "independent"}}
    }
  ]
}
